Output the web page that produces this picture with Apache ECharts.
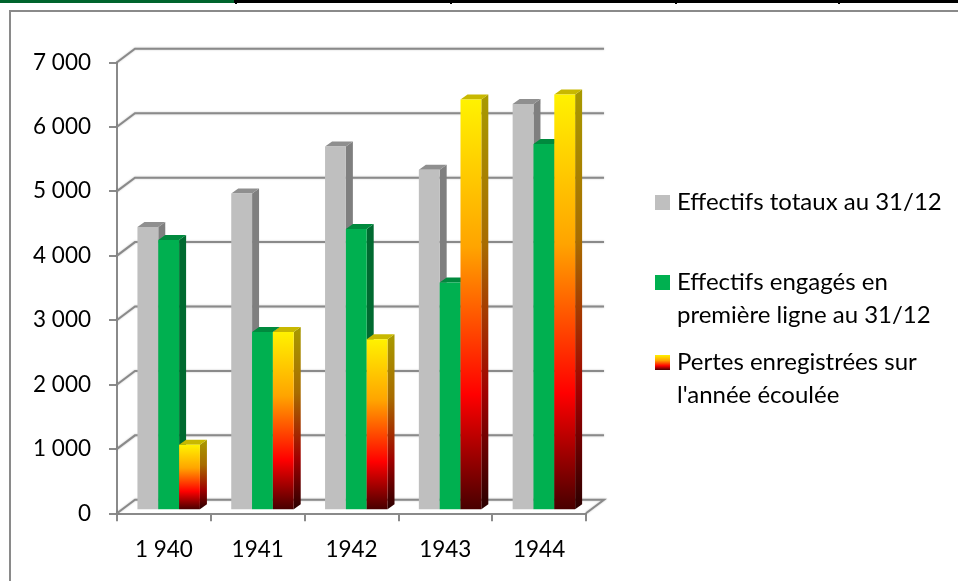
<!DOCTYPE html>
<html>
<head>
<meta charset="utf-8">
<script src="https://cdn.jsdelivr.net/npm/echarts@6/dist/echarts.min.js"></script>
<style>
html, body { margin: 0; padding: 0; background: #fff; }
#main { width: 958px; height: 581px; }
</style>
</head>
<body>
<div id="main"></div>
<script>
var categories = ['1 940', '1941', '1942', '1943', '1944'];
var effectifsTotaux = [4380, 4900, 5630, 5270, 6290];
var effectifsEngages = [4180, 2750, 4350, 3520, 5670];
var pertes = [1000, 2750, 2640, 6360, 6440];
var yTicks = [0, 1000, 2000, 3000, 4000, 5000, 6000, 7000];
var yTickLabels = ['0', '1 000', '2 000', '3 000', '4 000', '5 000', '6 000', '7 000'];

var nameTotaux = 'Effectifs totaux au 31/12';
var nameEngages = 'Effectifs engagés en\npremière ligne au 31/12';
var namePertes = "Pertes enregistrées sur\nl'année écoulée";

// profondeur du mur de fond et des barres (pseudo 3D)
var WALL_DX = 18, WALL_DY = 13.5;
var BAR_DX = 7, BAR_DY = 5;
var FLOOR_DY = 4;
var LINE_COLOR = '#8a8a8a';
var FONT = 'Lato';

function vGrad(stops) {
	return new echarts.graphic.LinearGradient(0, 0, 0, 1, stops.map(function(s) {
		return { offset: s[0], color: s[1] };
	}));
}

var redFront = [[0, '#fff200'], [0.36, '#ffa400'], [0.72, '#ff0000'], [1, '#480000']];
var redSide = [[0, '#a89a00'], [0.36, '#a86c00'], [0.72, '#a00000'], [1, '#2a0000']];

// une barre : face avant, dessus, cote droit
function barItem(slot, front, top, side) {
	return function(params, api) {
		var p = api.coord([api.value(0), api.value(1)]);
		var base = api.coord([api.value(0), 0]);
		var band = api.size([1, 0])[0];
		var w = band * 0.222;
		var x = p[0] + band * 0.051 + (slot - 1.5) * w;
		var y0 = base[1] - FLOOR_DY;
		var y1 = p[1] - FLOOR_DY;
		return {
			type: 'group',
			children: [{
				type: 'polygon',
				shape: { points: [[x + w, y1], [x + w + BAR_DX, y1 - BAR_DY], [x + w + BAR_DX, y0 - BAR_DY], [x + w, y0]] },
				style: { fill: side }
			}, {
				type: 'polygon',
				shape: { points: [[x, y1], [x + BAR_DX, y1 - BAR_DY], [x + w + BAR_DX, y1 - BAR_DY], [x + w, y1]] },
				style: { fill: top }
			}, {
				type: 'rect',
				shape: { x: x, y: y1, width: w, height: y0 - y1 },
				style: { fill: front }
			}]
		};
	};
}

// lignes du mur de fond et du plancher
function wallItem(params, api) {
	var y = api.coord([0, api.value(0)])[1];
	var left = params.coordSys.x, right = left + params.coordSys.width;
	var pts = [[left, y], [left + WALL_DX, y - WALL_DY], [right + WALL_DX, y - WALL_DY]];
	if (api.value(0) === 0) pts.push([right, y]);
	return {
		type: 'polyline',
		shape: { points: pts },
		style: { stroke: LINE_COLOR, lineWidth: 2, fill: null, shadowBlur: 2, shadowColor: 'rgba(0,0,0,0.25)' }
	};
}

function barSeries(name, values, slot, front, top, side, legendColor) {
	return {
		name: name,
		type: 'custom',
		renderItem: barItem(slot, front, top, side),
		itemStyle: { color: legendColor },
		encode: { x: 0, y: 1 },
		clip: false,
		z: 3,
		data: values.map(function(v, i) { return [i, v]; })
	};
}

function legendFor(name, top, color) {
	return {
		left: 650, top: top, orient: 'vertical', selectedMode: false,
		itemWidth: 15, itemHeight: 15, itemGap: 0,
		data: [{ name: name, icon: 'rect', itemStyle: { color: color } }],
		// ligne vide en tete pour garder le carre face a la premiere ligne
		formatter: function(n) { return n.indexOf('\n') >= 0 ? '\n' + n : n; },
		textStyle: { fontFamily: FONT, fontSize: 24, color: '#000', lineHeight: 33, padding: [0, 0, 0, 2] }
	};
}

var chart = echarts.init(document.getElementById('main'));
var redLegend = vGrad(redFront);

chart.setOption({
	animation: false,
	backgroundColor: '#fff',
	grid: { left: 117, top: 62.3, width: 469, height: 451 },
	legend: [
		legendFor(nameTotaux, 181, '#bfbfbf'),
		legendFor(nameEngages, 228, '#00b050'),
		legendFor(namePertes, 308, redLegend)
	],
	xAxis: {
		type: 'category',
		data: categories,
		axisLine: { show: true, lineStyle: { color: LINE_COLOR, width: 2 } },
		axisTick: { show: true, length: 8, lineStyle: { color: LINE_COLOR, width: 2 } },
		axisLabel: { fontFamily: FONT, fontSize: 22.5, color: '#000', margin: 25 },
		splitLine: { show: false }
	},
	yAxis: {
		type: 'value',
		min: 0,
		max: 7000,
		interval: 1000,
		axisLine: { show: true, lineStyle: { color: LINE_COLOR, width: 2 } },
		axisTick: { show: true, length: 8, lineStyle: { color: LINE_COLOR, width: 2 } },
		axisLabel: {
			fontFamily: FONT, fontSize: 22.5, color: '#000', margin: 26,
			formatter: function(v) { return yTickLabels[yTicks.indexOf(v)]; }
		},
		splitLine: { show: false }
	},
	series: [{
		type: 'custom',
		renderItem: wallItem,
		encode: { y: 0 },
		clip: false,
		silent: true,
		z: 1,
		data: yTicks.map(function(v) { return [v]; })
	},
	barSeries(nameTotaux, effectifsTotaux, 0, '#bfbfbf', '#8f8f8f', '#7f7f7f', '#bfbfbf'),
	barSeries(nameEngages, effectifsEngages, 1, '#00b050', '#008a3e', '#006a30', '#00b050'),
	barSeries(namePertes, pertes, 2, vGrad(redFront), '#c8b800', vGrad(redSide), redLegend)
	],
	graphic: [
		// cadre du graphique
		{ type: 'polyline', silent: true, z: 0, shape: { points: [[10, 581], [10, 11], [958, 11]] }, style: { stroke: '#8a8a8a', lineWidth: 2, fill: null } },
		// bord du tableau au-dessus
		{ type: 'rect', silent: true, shape: { x: 0, y: 0, width: 958, height: 3 }, style: { fill: '#000' } },
		{ type: 'rect', silent: true, shape: { x: 0, y: 0, width: 234, height: 3 }, style: { fill: '#00642d' } },
		{ type: 'rect', silent: true, shape: { x: 235, y: 0, width: 2, height: 4 }, style: { fill: '#000' } },
		{ type: 'rect', silent: true, shape: { x: 450, y: 0, width: 2, height: 4 }, style: { fill: '#000' } },
		{ type: 'rect', silent: true, shape: { x: 675, y: 0, width: 2, height: 4 }, style: { fill: '#000' } },
		{ type: 'rect', silent: true, shape: { x: 838, y: 0, width: 2, height: 4 }, style: { fill: '#000' } }
	]
});
</script>
</body>
</html>
